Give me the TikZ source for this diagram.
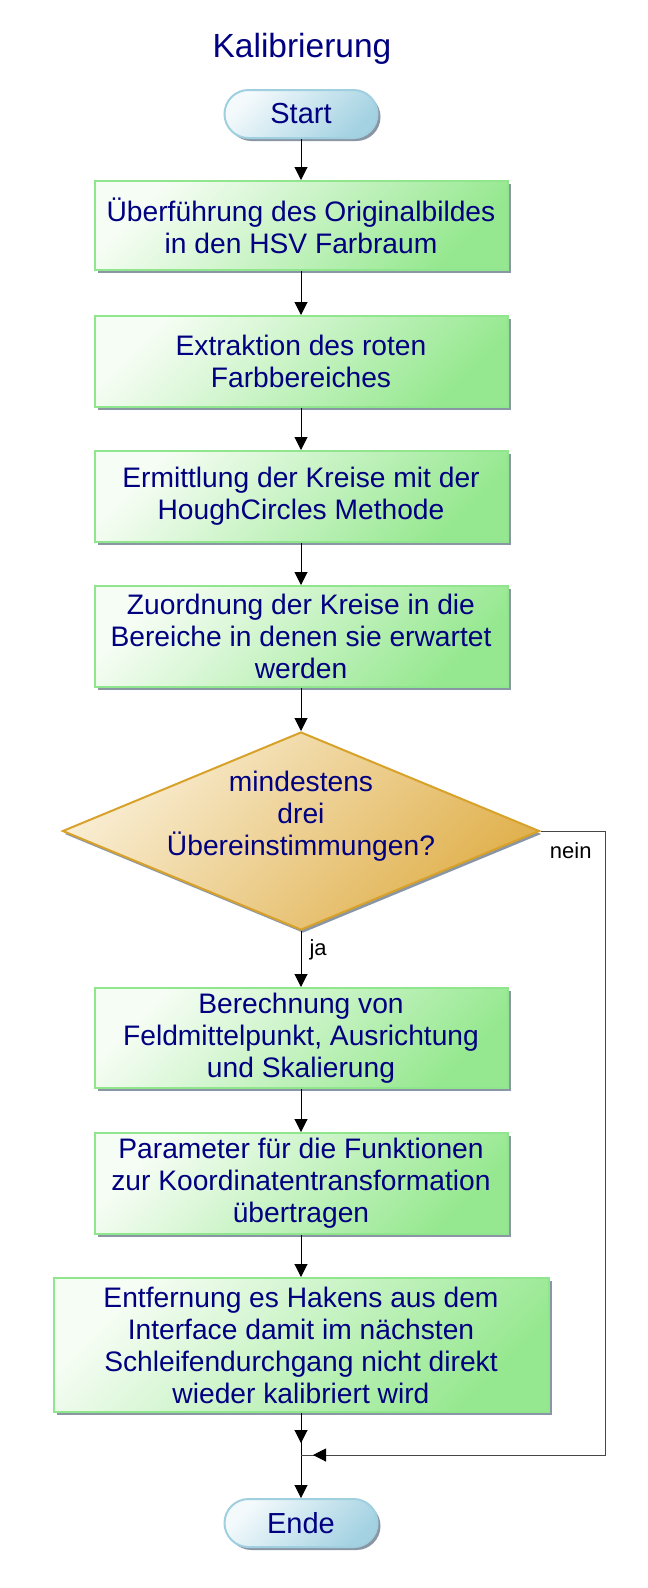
\documentclass[tikz,border=0pt]{standalone}
\usepackage{fontspec}
\setmainfont{Liberation Sans}
\usetikzlibrary{shapes.geometric, shadows, arrows.meta, decorations.markings}
\definecolor{navytext}{RGB}{0,0,128}
\definecolor{boxlight}{RGB}{246,253,244}
\definecolor{boxdark}{RGB}{150,232,144}
\definecolor{boxedge}{RGB}{144,230,140}
\definecolor{termlight}{RGB}{244,250,252}
\definecolor{termdark}{RGB}{164,210,226}
\definecolor{termedge}{RGB}{160,208,224}
\definecolor{dialight}{RGB}{249,238,212}
\definecolor{diadark}{RGB}{224,176,76}
\definecolor{diaedge}{RGB}{216,162,42}
\definecolor{shadowgray}{RGB}{138,150,164}
\definecolor{linegray}{RGB}{70,70,70}
\begin{document}
\begin{tikzpicture}[x=1pt, y=-1pt,
  bodyfont/.style={font=\fontsize{28.2}{32}\selectfont, text=navytext},
  proc/.style={rectangle, draw=boxedge, line width=2pt,
    top color=boxlight, bottom color=boxdark, shading angle=45,
    minimum width=413pt, align=center, inner sep=0pt, bodyfont,
    drop shadow={shadow xshift=3pt, shadow yshift=-3pt, fill=shadowgray, opacity=1}},
  term/.style={rectangle, rounded corners=24pt, draw=termedge, line width=2pt,
    top color=termlight, bottom color=termdark, shading angle=45,
    minimum width=153pt, minimum height=48pt, inner sep=0pt,
    font=\fontsize{29}{32}\selectfont, text=navytext,
    drop shadow={shadow xshift=3pt, shadow yshift=-3pt, fill=shadowgray, opacity=1}},
  dia/.style={diamond, draw=diaedge, line width=2pt, inner sep=0pt,
    top color=dialight, bottom color=diadark, shading angle=45,
    minimum width=477pt, minimum height=198pt,
    drop shadow={shadow xshift=2pt, shadow yshift=-3pt, fill=shadowgray, opacity=1}},
  lab/.style={font=\fontsize{22}{24}\selectfont, text=black, inner sep=0pt},
  conn/.style={draw=black, line width=1pt, -{Triangle[width=13pt,length=13pt]}},
  plain/.style={draw=linegray, line width=1pt},
  midarrow/.style={postaction={decorate}, decoration={markings,
    mark=at position #1 with {\arrow[black]{Triangle[width=13pt,length=13pt]}}}}
]
\fill[white] (0,0) rectangle (648,1588);
\useasboundingbox (0,0) rectangle (648,1588);

\node[anchor=base, font=\fontsize{33.5}{36}\selectfont, text=navytext] (title) at (302,57) {Kalibrierung};

\node[term] (start) at (301,114) {Start};
\node[proc, minimum height=89pt] (b1) at (301,225.5) {Überführung des Originalbildes\\in den HSV Farbraum};
\node[proc, minimum height=91pt] (b2) at (301,361.5) {Extraktion des roten\\ Farbbereiches};
\node[proc, minimum height=91pt] (b3) at (301,496.5) {Ermittlung der Kreise mit der\\HoughCircles Methode};
\node[proc, minimum height=101pt] (b4) at (301,636.5) {Zuordnung der Kreise in die\\Bereiche in denen sie erwartet\\werden};
\node[dia] (d) at (301,831) {};
\node[bodyfont, align=center, inner sep=0pt] (dtext) at (301,816) {mindestens\\drei\\Übereinstimmungen?};
\node[proc, minimum height=100pt] (b5) at (301,1038) {Berechnung von\\Feldmittelpunkt, Ausrichtung\\und Skalierung};
\node[proc, minimum height=101pt] (b6) at (301,1183.5) {Parameter für die Funktionen\\zur Koordinatentransformation\\übertragen};
\node[proc, minimum width=495pt, minimum height=134pt] (b7) at (301,1345) {Entfernung es Hakens aus dem\\Interface damit im nächsten\\Schleifendurchgang nicht direkt\\wieder kalibriert wird};
\node[term] (ende) at (301,1523) {Ende};

\coordinate (c1) at (605,831);
\coordinate (c2) at (605,1455);
\coordinate (j) at (301,1455);

\draw[conn] (start) -- (b1);
\draw[conn] (b1) -- (b2);
\draw[conn] (b2) -- (b3);
\draw[conn] (b3) -- (b4);
\draw[conn] (b4) -- (d);
\draw[conn] (d.south) -- node[lab, anchor=west, pos=0.33, xshift=8pt] {ja} (b5);
\draw[conn] (b5) -- (b6);
\draw[conn] (b6) -- (b7);
\draw[draw=black, line width=1pt, midarrow=-12pt] (b7) -- (j);
\draw[conn] (j) -- (ende);
\draw[plain, midarrow=-12pt] (d.east) -- (c1) node[lab, anchor=base east, xshift=-13pt, yshift=-27pt] {nein} -- (c2) -- (j);
\end{tikzpicture}
\end{document}
